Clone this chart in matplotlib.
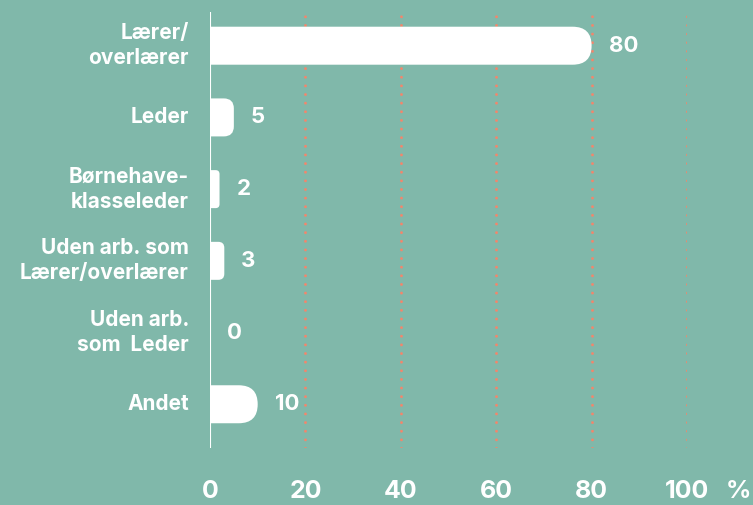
import numpy as np
import matplotlib
matplotlib.use("Agg")
import matplotlib.pyplot as plt
from matplotlib.patches import FancyBboxPatch
from matplotlib.transforms import blended_transform_factory

plt.rcParams["font.family"] = ["Inter", "DejaVu Sans"]

categories = ["Lærer/\noverlærer", "Leder", "Børnehave-\nklasseleder",
              "Uden arb. som\nLærer/overlærer", "Uden arb.\nsom  Leder", "Andet"]
values = [80, 5, 2, 3, 0, 10]
xticks = [0, 20, 40, 60, 80, 100]

bg = "#80B8AA"
dot = "#F2866C"
W, H = 753, 505

fig = plt.figure(figsize=(W / 100, H / 100), dpi=100, facecolor=bg)
# axes: x 0..100 -> px 210..687, y from px 12 to 448
ax = fig.add_axes([210 / W, 1 - 448 / H, 477 / W, 436 / H], facecolor=bg)
n = len(categories)
ax.set_xlim(0, 100)
ax.set_ylim(n - 0.5 + 0.11, -0.5 + 0.03)
for s in ax.spines.values():
    s.set_visible(False)
ax.set_xticks([])
ax.set_yticks([])

for x in xticks[1:]:
    ax.axvline(x, color=dot, lw=2.1, ls=(0, (0.01, 2.95)), dash_capstyle="round", zorder=1)
ax.axvline(0, color="white", lw=1.5, zorder=4)

px_x = 477 / 100.0   # pixels per x unit
px_y = 436 / (n - 0.5 + 0.11 + 0.5 - 0.03)  # pixels per y unit
bar_h = 38 / px_y
for i, v in enumerate(values):
    if v > 0:
        wpx = v * px_x
        r_px = min(19, wpx * 0.42)
        r = r_px / px_x
        patch = FancyBboxPatch((-r, i - bar_h / 2), v + r, bar_h,
                               boxstyle=f"round,pad=0,rounding_size={r}",
                               mutation_aspect=px_x / px_y,
                               fc="white", ec="none", zorder=3, clip_on=True)
        ax.add_patch(patch)
    ax.text(v + 17 / px_x, i, str(v), color="white", fontsize=16, fontweight="bold",
            va="center", ha="left", zorder=5, clip_on=False)

for i, c in enumerate(categories):
    ax.text(-21 / px_x, i, c, color="white", fontsize=15, fontweight="bold",
            ha="right", va="center", multialignment="right", linespacing=1.3,
            clip_on=False)

tr = blended_transform_factory(ax.transData, fig.transFigure)
for x in xticks:
    ax.text(x, 1 - 492 / H, str(x), transform=tr, color="white", fontsize=18,
            fontweight="bold", ha="center", va="center")
fig.text(738 / W, 1 - 492 / H, "%", color="white", fontsize=18,
         fontweight="bold", ha="center", va="center")

fig.savefig("out.png", dpi=100, facecolor=bg)
